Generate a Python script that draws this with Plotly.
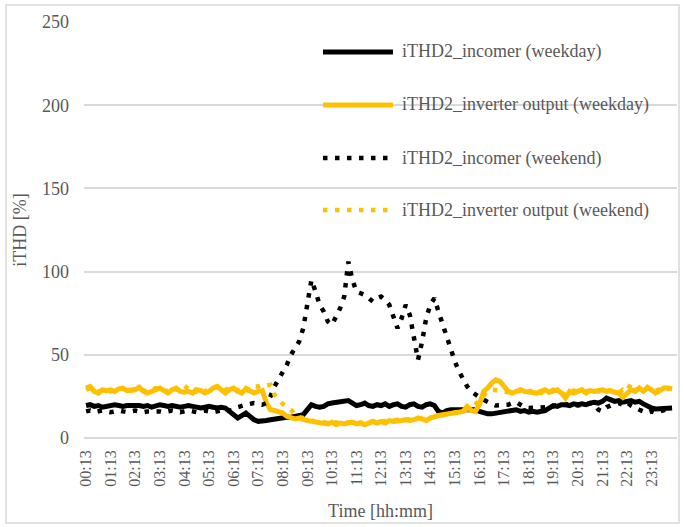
import plotly.graph_objects as go

# Hourly tick labels on the category axis
TICK_LABELS = [f"{h:02d}:13" for h in range(24)]

# 10-minute samples from 00:13 through 23:53
TIMES = [f"{(13 + 10 * k) // 60:02d}:{(13 + 10 * k) % 60:02d}" for k in range(144)]

# iTHD2 at the incomer, weekday [%]  (one row per hour)
INC_WEEKDAY = [
    19.5, 20, 19, 19.5, 18.5, 19,
    19.5, 20, 19.5, 19, 19.5, 19.5,
    20, 19.5, 19, 19.5, 18.5, 19,
    20, 19.5, 19, 19.5, 19, 18.5,
    19, 19.5, 19, 18.5, 18, 18.5,
    19, 18.5, 18, 18.5, 18, 16,
    13.5, 12, 13.5, 15, 13, 11,
    10, 10, 10.5, 11, 11.5, 12,
    12, 12.5, 12.5, 13, 14, 14,
    17, 20, 19, 18.5, 19, 20.5,
    21, 21.5, 22, 22, 22.5, 21,
    19.5, 20, 21, 19.5, 19, 20,
    19.5, 20.5, 19, 20, 20.5, 19,
    18.5, 20, 20.5, 19, 18.5, 20,
    20.5, 19.5, 16, 15, 16.5, 17,
    17, 17, 17, 17, 17.5, 17,
    16, 15, 14.5, 14.5, 15, 15.5,
    16, 16, 16.5, 17, 16, 16.5,
    15.5, 16, 15.5, 16, 16.5, 18,
    19.5, 19, 20, 20, 19.5, 20.5,
    20, 20.5, 20, 21, 21.5, 21,
    22, 24, 23, 22, 22.5, 21.5,
    22, 22.5, 21.5, 22, 20.5, 19,
    18, 17.5, 17.5, 17.5, 18, 18,
]

# iTHD2 at the inverter output, weekday [%]
INV_WEEKDAY = [
    30, 31, 28, 27, 29, 28.5,
    29, 28, 29.5, 30, 28.5, 29,
    29, 30.5, 28, 27, 28, 29,
    30, 28.5, 27, 29, 30, 28,
    27.5, 28, 27, 29, 28.5, 27,
    28, 30, 31, 29, 27, 29,
    30, 28, 27, 29.5, 28.5, 27,
    28, 28.5, 21, 17, 16.5, 16,
    15, 13, 12, 11.5, 12, 11,
    10.5, 10, 9.5, 9, 9, 8.5,
    9.5, 8, 9, 8.5, 9, 9.5,
    8.5, 9, 8, 9, 10, 9,
    10, 9, 10.5, 10, 10, 10.5,
    11, 10.5, 11, 12, 11.5, 10.5,
    12, 13, 13.5, 14, 14.5, 15,
    15, 15.5, 16, 19, 16.5, 16,
    20, 28, 30, 33, 35, 34,
    31, 28, 27, 28, 29, 28,
    27.5, 27, 27, 28, 29, 27.5,
    28, 29, 27, 24, 28, 27,
    28, 29, 27, 28.5, 28, 28.5,
    29, 28, 28.5, 27.5, 27, 24.5,
    27, 29, 28, 30, 28, 30.5,
    29, 27, 28.5, 30, 30, 29.5,
]

# iTHD2 at the incomer, weekend [%]
INC_WEEKEND = [
    16, 16.5, 15.5, 16, 16.5, 16,
    15.5, 16, 16.5, 16, 15.5, 16,
    16.5, 16, 15.5, 16, 16, 16.5,
    16, 15.5, 16, 16.5, 16, 15.5,
    16, 16.5, 16, 15.5, 16, 16.5,
    16, 15.5, 16, 16.5, 16, 16.5,
    17, 18.5, 19.5, 20, 20.5, 21,
    20.5, 20, 21, 25, 31, 35,
    39, 44, 50, 54, 58, 66,
    80, 95, 88, 80, 76, 70,
    68, 73, 78, 85, 106, 95,
    88, 87, 86, 84, 82, 84,
    85, 83, 80, 73, 66, 72,
    80, 74, 62, 47, 58, 72,
    80, 84, 76, 68, 60, 52,
    46, 40, 35, 31, 28, 26,
    24.5, 23, 21.5, 20.5, 19.5, 19.5,
    20, 20, 21, 21.5, 20, 18.5,
    18, 18, 18, 18, 18.5, 19,
    19, 20, 19.5, 20, 20.5, 20,
    19.5, 20, 20.5, 21, 20.5, 17,
    16, 18.5, 19.5, 20.5, 21, 20,
    21.5, 19.5, 18, 17, 16, 15,
    16, 15, 16, 17, 17.5, 18,
]

# iTHD2 at the inverter output, weekend [%]
INV_WEEKEND = [
    29, 30, 28.5, 28, 28.5, 29,
    28, 29, 30, 29.5, 28, 28.5,
    30, 29, 28.5, 28, 29, 30,
    29, 28, 28.5, 31, 29, 28.5,
    29, 32, 30, 28, 29.5, 28,
    29, 31, 30, 28, 29, 30,
    28.5, 29, 28, 30, 29, 31,
    31, 32, 31.5, 32, 26, 23,
    20.5, 19, 17, 14, 12.5, 12,
    11, 10.5, 10, 10, 9.5, 9,
    9, 9.5, 8.5, 9, 9.5, 9,
    9, 9.5, 9, 9.5, 10, 9.5,
    10, 10, 10.5, 10.5, 11, 10.5,
    11, 11, 11.5, 12, 12, 11.5,
    12, 12.5, 13, 14, 14.5, 15,
    15.5, 16, 16, 17, 18, 20,
    23, 26, 28, 29, 29, 28.5,
    28, 27.5, 28, 28.5, 28, 27.5,
    28, 28.5, 28, 27, 28.5, 28,
    29, 28, 27.5, 26, 28, 28.5,
    28, 28.5, 28, 29, 28.5, 28,
    28.5, 29, 28, 28, 27.5, 29,
    28, 33, 29, 30, 29, 29.5,
    30, 28.5, 29, 30, 29.5, 30,
]

SERIES_NAMES = [
    "iTHD2_incomer (weekday)",
    "iTHD2_inverter output (weekday)",
    "iTHD2_incomer (weekend)",
    "iTHD2_inverter output (weekend)",
]

BLACK = "#000000"
GOLD = "#FFC000"
GRID = "#D9D9D9"
TEXT = "#595959"
FONT = "Liberation Serif, Times New Roman, serif"
DOT = "4.5px,7.5px"

styles = [
    dict(color=BLACK, width=5, dash="solid"),
    dict(color=GOLD, width=5, dash="solid"),
    dict(color=BLACK, width=4.5, dash=DOT),
    dict(color=GOLD, width=4.5, dash=DOT),
]
series = [INC_WEEKDAY, INV_WEEKDAY, INC_WEEKEND, INV_WEEKEND]

fig = go.Figure()
for name, ys, st in zip(SERIES_NAMES, series, styles):
    fig.add_trace(go.Scatter(
        x=TIMES, y=ys, mode="lines", name=name,
        line=dict(color=st["color"], width=st["width"], dash=st["dash"]),
        showlegend=False, hoverinfo="skip",
    ))

# Legend drawn as sample strokes plus labels inside the plot area
legend_rows = [0.928, 0.8005, 0.673, 0.548]
shapes = []
annotations = []
for name, st, ly in zip(SERIES_NAMES, styles, legend_rows):
    shapes.append(dict(
        type="line", xref="paper", yref="paper",
        x0=0.403, x1=0.521, y0=ly, y1=ly,
        line=dict(color=st["color"], width=st["width"], dash=st["dash"]),
    ))
    annotations.append(dict(
        xref="paper", yref="paper", x=0.533, y=ly,
        xanchor="left", yanchor="middle", showarrow=False,
        text=name, font=dict(family=FONT, size=18, color=TEXT),
    ))

# Chart-area border
shapes.append(dict(
    type="rect", xref="paper", yref="paper",
    x0=-0.1315, x1=1.0034, y0=-0.2043, y1=1.0409,
    line=dict(color=GRID, width=1.5), layer="below",
))

fig.update_layout(
    width=684, height=527,
    margin=dict(l=84, r=7, t=22, b=89),
    paper_bgcolor="white", plot_bgcolor="white",
    font=dict(family=FONT, size=18, color=TEXT),
    shapes=shapes, annotations=annotations,
    xaxis=dict(
        type="category",
        categoryorder="array", categoryarray=TIMES,
        range=[-0.5, 144.2],
        tickmode="array", tickvals=TICK_LABELS, ticktext=TICK_LABELS,
        tickangle=-90,
        tickfont=dict(family=FONT, size=16, color=TEXT),
        showgrid=False, zeroline=False, showline=False,
        ticks="", ticklabelstandoff=8,
        title=dict(text="Time [hh:mm]", font=dict(family=FONT, size=18, color=TEXT),
                   standoff=18),
        fixedrange=True,
    ),
    yaxis=dict(
        range=[0, 250], dtick=50, tick0=0,
        showgrid=True, gridcolor=GRID, gridwidth=1.5,
        zeroline=True, zerolinecolor=GRID, zerolinewidth=1.5,
        showline=False, ticks="", ticklabelstandoff=14,
        tickfont=dict(family=FONT, size=18, color=TEXT),
        title=dict(text="iTHD [%]", font=dict(family=FONT, size=18, color=TEXT),
                   standoff=10),
        fixedrange=True,
    ),
)

fig.write_html("out.html", config={"displayModeBar": False})
